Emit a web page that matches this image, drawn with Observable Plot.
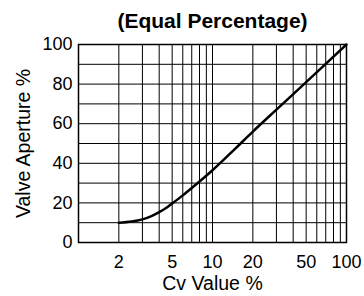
<!DOCTYPE html>
<html><head><meta charset="utf-8">
<script src="https://cdn.jsdelivr.net/npm/d3@7"></script>
<script src="https://cdn.jsdelivr.net/npm/@observablehq/plot@0.6"></script>
<style>body{margin:0;background:#fff}</style>
</head><body><div id="chart"></div>
<script>
const title = "(Equal Percentage)";
const xLabel = "Cv Value %";
const yLabel = "Valve Aperture %";
const cvValues = [2, 2.5, 3, 3.5, 4, 4.5, 5, 6, 7, 8, 10, 15, 20, 30, 50, 70, 100];
const aperture = [10, 10.6, 11.7, 13.3, 15.3, 17.4, 19.7, 23.8, 27.5, 30.8, 36.5, 47.8, 56, 67.1, 81, 90.2, 100];
const xTicks = [2, 5, 10, 20, 50, 100];
const xGrid = [2, 3, 4, 5, 6, 7, 8, 9, 10, 20, 30, 40, 50, 60, 70, 80, 90];
const yTicks = [0, 20, 40, 60, 80, 100];
const yGrid = [10, 20, 30, 40, 50, 60, 70, 80, 90];

const data = cvValues.map((x, i) => ({x, y: aperture[i]}));
const font = "Liberation Sans, Arial, Helvetica, sans-serif";

const chart = Plot.plot({
  width: 364, height: 296,
  marginLeft: 78, marginRight: 18, marginTop: 44, marginBottom: 54,
  style: {fontFamily: font, color: "#000", background: "#fff"},
  x: {type: "log", domain: [1, 100]},
  y: {domain: [0, 100]},
  marks: [
    Plot.ruleX(xGrid, {stroke: "#000", strokeWidth: 1}),
    Plot.ruleY(yGrid, {stroke: "#000", strokeWidth: 1}),
    Plot.frame({stroke: "#000", strokeWidth: 1.5}),
    Plot.axisX({ticks: xTicks, tickFormat: d => String(d), tickSize: 0, tickPadding: 13, fontSize: 18, label: null, fill: "#000"}),
    Plot.axisY({ticks: yTicks, tickSize: 0, tickPadding: 6, fontSize: 18, label: null, fill: "#000"}),
    Plot.line(data, {x: "x", y: "y", curve: "monotone-x", stroke: "#000", strokeWidth: 2.5}),
    Plot.text([xLabel], {frameAnchor: "bottom", lineAnchor: "middle", dy: 41, fontSize: 19.5, fontFamily: font, fill: "#000"}),
    Plot.text([yLabel], {frameAnchor: "left", textAnchor: "middle", lineAnchor: "middle", dx: -55, rotate: -90, fontSize: 19.5, fontFamily: font, fill: "#000"}),
    Plot.text([title], {frameAnchor: "top", lineAnchor: "middle", dy: -23, fontWeight: "bold", fontSize: 21, fontFamily: font, fill: "#000"})
  ]
});
document.getElementById("chart").appendChild(chart);
</script>
</body></html>
